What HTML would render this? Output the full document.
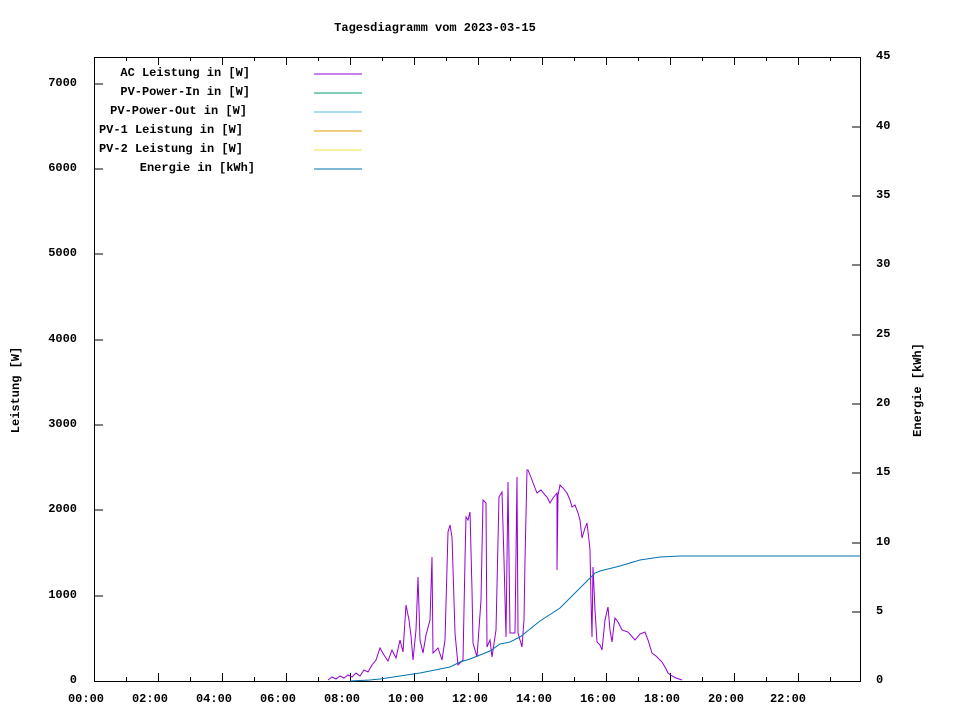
<!DOCTYPE html>
<html><head><style>
body{margin:0;background:#fff}
svg{display:block}
text{font-family:"Liberation Mono","DejaVu Sans Mono",monospace;font-size:12px;font-weight:bold;fill:#000}
</style></head><body>
<svg width="960" height="720" viewBox="0 0 960 720">
<rect width="960" height="720" fill="#fff"/>
<text x="435" y="31" text-anchor="middle">Tagesdiagramm vom 2023-03-15</text>
<g stroke="#000" stroke-width="1" fill="none">
<rect x="94.5" y="57.5" width="766" height="624"/>
<path d="M95 596h8M95 510h8M95 425h8M95 340h8M95 254h8M95 169h8M95 84h8"/>
<path d="M860 612h-8M860 543h-8M860 473h-8M860 404h-8M860 335h-8M860 265h-8M860 196h-8M860 127h-8"/>
<path d="M126.5 681v-4M158.5 681v-8M190.5 681v-4M222.5 681v-8M254.5 681v-4M286.5 681v-8M318.5 681v-4M350.5 681v-8M382.5 681v-4M414.5 681v-8M446.5 681v-4M478.5 681v-8M510.5 681v-4M542.5 681v-8M574.5 681v-4M606.5 681v-8M638.5 681v-4M670.5 681v-8M702.5 681v-4M734.5 681v-8M766.5 681v-4M798.5 681v-8M830.5 681v-4"/>
<path d="M126.5 57v4M158.5 57v8M190.5 57v4M222.5 57v8M254.5 57v4M286.5 57v8M318.5 57v4M350.5 57v8M382.5 57v4M414.5 57v8M446.5 57v4M478.5 57v8M510.5 57v4M542.5 57v8M574.5 57v4M606.5 57v8M638.5 57v4M670.5 57v8M702.5 57v4M734.5 57v8M766.5 57v4M798.5 57v8M830.5 57v4"/>
</g>
<g text-anchor="end">
<text x="77" y="683">0</text><text x="77" y="598">1000</text><text x="77" y="512">2000</text><text x="77" y="427">3000</text><text x="77" y="342">4000</text><text x="77" y="256">5000</text><text x="77" y="171">6000</text><text x="77" y="86">7000</text>
</g>
<g text-anchor="start">
<text x="876" y="683">0</text><text x="876" y="614">5</text><text x="876" y="545">10</text><text x="876" y="475">15</text><text x="876" y="406">20</text><text x="876" y="337">25</text><text x="876" y="267">30</text><text x="876" y="198">35</text><text x="876" y="129">40</text><text x="876" y="59">45</text>
</g>
<g text-anchor="middle">
<text x="86" y="702">00:00</text><text x="150" y="702">02:00</text><text x="214" y="702">04:00</text><text x="278" y="702">06:00</text><text x="342" y="702">08:00</text><text x="406" y="702">10:00</text><text x="470" y="702">12:00</text><text x="534" y="702">14:00</text><text x="598" y="702">16:00</text><text x="662" y="702">18:00</text><text x="726" y="702">20:00</text><text x="788" y="702">22:00</text>
</g>
<text transform="translate(19,390) rotate(-90)" text-anchor="middle">Leistung [W]</text>
<text transform="translate(921,390) rotate(-90)" text-anchor="middle">Energie [kWh]</text>
<g text-anchor="end">
<text x="250" y="76">AC Leistung in [W]</text>
<text x="250" y="95">PV-Power-In in [W]</text>
<text x="247" y="114">PV-Power-Out in [W]</text>
<text x="243" y="133">PV-1 Leistung in [W]</text>
<text x="243" y="152">PV-2 Leistung in [W]</text>
<text x="255" y="171">Energie in [kWh]</text>
</g>
<g stroke-width="1">
<path d="M314 74h48" stroke="#9400d3"/>
<path d="M314 93h48" stroke="#009e73"/>
<path d="M314 112h48" stroke="#56b4e9"/>
<path d="M314 131h48" stroke="#e69f00"/>
<path d="M314 150h48" stroke="#f0e442"/>
<path d="M314 169h48" stroke="#0072b2"/>
</g>
<polyline fill="none" stroke="#9400d3" stroke-width="1" points="328,680 332,677 336,679 340,676 344,678 348,675 352,677 356,673 360,676 364,670 368,672 372,665 376,660 380,648 384,655 388,661 392,650 396,658 400,640 403,652 406,605 409,620 411,636 413,660 416,630 418,577 420,640 423,653 426,635 430,620 432,557 433,653 438,648 442,660 445,640 448,532 450,525 452,537 454,600 455,633 458,665 463,660 465,560 466,517 468,520 470,512 472,590 473,643 477,657 481,600 483,500 486,503 487,647 490,640 492,657 496,630 499,497 502,492 504,560 506,637 508,482 510,633 515,633 517,477 518,633 522,647 524,620 525,560 527,470 528,470 532,480 535,488 537,493 541,490 545,495 547,497 550,503 553,498 557,493 557,570 558,495 560,485 563,488 567,493 570,500 572,507 575,505 578,513 580,520 582,538 585,528 587,523 589,540 590,550 591,600 592,637 593,567 595,610 597,642 600,645 602,650 605,620 608,607 610,630 612,642 614,625 615,618 618,622 622,630 628,632 635,640 640,634 645,632 648,640 652,653 656,656 662,662 665,667 668,673 672,676 676,678 682,680"/>
<polyline fill="none" stroke="#0072b2" stroke-width="1" points="350,681 370,680 380,679 400,676 420,673 440,669 450,667 460,662 470,659 480,655 490,651 500,644 510,642 520,637 525,633 540,621 560,608 575,593 590,578 595,573 600,571 620,566 640,560 660,557 680,556 860,556"/>
</svg>
</body></html>
